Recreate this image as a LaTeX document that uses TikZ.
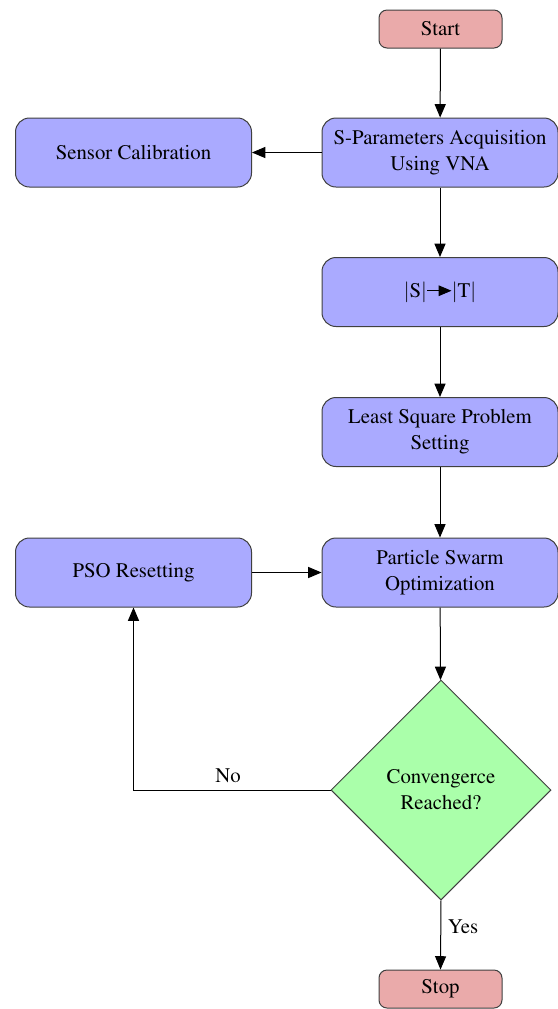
\documentclass[tikz,border=0pt]{standalone}
\usepackage[T1]{fontenc}
\usepackage{mathptmx}
\usepackage{tikz}
\usetikzlibrary{shapes,arrows}
\usepackage{xcolor}

\definecolor{procblue}{RGB}{170,170,255}
\definecolor{termpink}{RGB}{234,170,170}
\definecolor{decgreen}{RGB}{170,255,170}

\tikzset{
	termbox/.style={draw=black!75,fill=termpink,rounded corners=4pt,minimum width=61.5pt,minimum height=19pt,line width=0.5pt,inner sep=1pt},
	procbox/.style={draw=black!75,fill=procblue,rounded corners=7pt,minimum width=118pt,minimum height=34.5pt,line width=0.5pt,align=center,inner sep=1pt},
	decbox/.style={draw=black!75,fill=decgreen,diamond,minimum width=110pt,minimum height=110pt,line width=0.5pt,align=center,inner sep=0pt},
	flow/.style={line width=0.5pt,-triangle 45}
}

\begin{document}
\begin{tikzpicture}[x=0.5pt,y=-0.5pt,font=\fontsize{10.4}{13}\selectfont]
		\useasboundingbox (0,0) rectangle (558,1009);
		\node[termbox] (start) at (440.5,29) {Start};
		\node[procbox] (acq) at (440,152.5) {S-Parameters Acquisition\\Using VNA};
		\node[procbox] (calib) at (133.5,152.5) {Sensor Calibration};
		\node[procbox] (conv) at (440,292) {$|$S$|$\tikz[baseline=0pt]\draw[line width=0.45pt,-triangle 45] (0,3.2pt) -- (12pt,3.2pt);$|$T$|$};
		\node[procbox] (lsq) at (440,432) {Least Square Problem\\Setting};
		\node[procbox] (pso) at (440,572.5) {Particle Swarm\\Optimization};
		\node[procbox] (reset) at (133.5,572.5) {PSO Resetting};
		\node[decbox] (conv2) at (441,790) {Convengerce\\Reached?};
		\node[termbox] (stop) at (440.5,989) {Stop};
		\draw[flow] (start) -- (acq);
		\draw[flow] (acq) -- (calib);
		\draw[flow] (acq) -- (conv);
		\draw[flow] (conv) -- (lsq);
		\draw[flow] (lsq) -- (pso);
		\draw[flow] (reset) -- (pso);
		\draw[flow] (pso) -- (conv2);
		\draw[flow] (conv2.west) -- (reset.south |- conv2.west) node[pos=0.52,above]{No} -- (reset.south);
		\draw[flow] (conv2.south) -- node[pos=0.38,right]{Yes} (stop.north);
\end{tikzpicture}
\end{document}
